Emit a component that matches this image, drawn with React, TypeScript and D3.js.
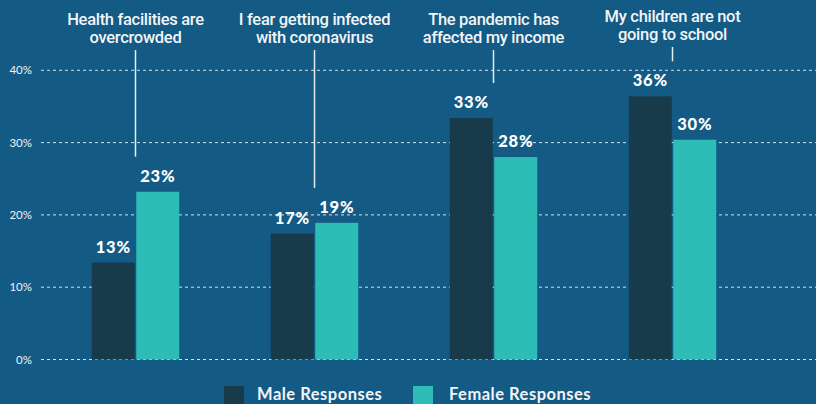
import React from "react";
import * as d3 from "d3";

const categories = [
  ["Health facilities are", "overcrowded"],
  ["I fear getting infected", "with coronavirus"],
  ["The pandemic has", "affected my income"],
  ["My children are not", "going to school"],
];
const maleValues = [13.4, 17.4, 33.4, 36.4];
const femaleValues = [23.2, 18.9, 28.0, 30.4];
const yTicks = [0, 10, 20, 30, 40];
const seriesNames = ["Male Responses", "Female Responses"];

const W = 816;
const H = 404;
const BG = "#135a85";
const MALE = "#183b4b";
const FEMALE = "#2ebdb6";

export default function App() {
  const y = d3.scaleLinear().domain([0, 40]).range([359.5, 70.3]);
  const x = d3
    .scaleBand<number>()
    .domain(d3.range(categories.length))
    .range([46, 762])
    .paddingInner(0)
    .paddingOuter(0);
  const barW = 43;
  const gap = 1.5;
  const labelFont = "Lato, 'Open Sans', sans-serif";

  return (
    <div style={{ position: "fixed", left: 0, top: 0, width: W, height: H, background: BG }}>
      <svg width={W} height={H} style={{ display: "block" }}>
        <rect width={W} height={H} fill={BG} />
        {yTicks.map((t) => (
          <g key={t}>
            <line
              x1={41}
              x2={W}
              y1={y(t)}
              y2={y(t)}
              stroke="#d5e2ec"
              strokeWidth={1}
              strokeDasharray="3 3"
            />
            <text
              x={32}
              y={y(t)}
              dy="0.35em"
              textAnchor="end"
              fill="#eef3f7"
              fontSize={11.5}
              fontFamily={labelFont}
            >
              {t}%
            </text>
          </g>
        ))}
        {categories.map((c, i) => {
          const cx = x(i)! + x.bandwidth() / 2;
          const m = maleValues[i];
          const f = femaleValues[i];
          const top = Math.min(y(m), y(f));
          const shift = i === 3 ? -3 : 0;
          return (
            <g key={i}>
              {c.map((line, j) => (
                <text
                  key={j}
                  x={cx}
                  y={25 + shift + j * 18}
                  textAnchor="middle"
                  fill="#f2f5f8"
                  fontSize={16.5}
                  fontWeight={500}
                  fontFamily="Roboto, sans-serif"
                  style={{ letterSpacing: "-0.3px" }}
                >
                  {line}
                </text>
              ))}
              <line
                x1={cx}
                x2={cx}
                y1={50 + shift}
                y2={top - 35}
                stroke="#e6edf2"
                strokeWidth={1.5}
              />
              <rect x={cx - gap / 2 - barW} y={y(m)} width={barW} height={y(0) - y(m)} fill={MALE} />
              <rect x={cx + gap / 2} y={y(f)} width={barW} height={y(0) - y(f)} fill={FEMALE} />
              <text
                x={cx - gap / 2 - barW / 2}
                y={y(m) - 10}
                textAnchor="middle"
                fill="#ffffff"
                fontSize={16.5}
                fontWeight={900}
                fontFamily={labelFont}
                style={{ letterSpacing: "0.8px" }}
              >
                {Math.round(m)}%
              </text>
              <text
                x={cx + gap / 2 + barW / 2}
                y={y(f) - 10}
                textAnchor="middle"
                fill="#ffffff"
                fontSize={16.5}
                fontWeight={900}
                fontFamily={labelFont}
                style={{ letterSpacing: "0.8px" }}
              >
                {Math.round(f)}%
              </text>
            </g>
          );
        })}
        {seriesNames.map((s, i) => (
          <g key={s} transform={`translate(${i === 0 ? 224 : 413},0)`}>
            <rect x={0} y={386} width={20} height={20} fill={i === 0 ? MALE : FEMALE} />
            <text
              x={i === 0 ? 33 : 36}
              y={400}
              fill="#f2f5f8"
              fontSize={16.5}
              fontWeight={700}
              fontFamily={labelFont}
              style={{ letterSpacing: "0.5px" }}
            >
              {s}
            </text>
          </g>
        ))}
      </svg>
    </div>
  );
}
